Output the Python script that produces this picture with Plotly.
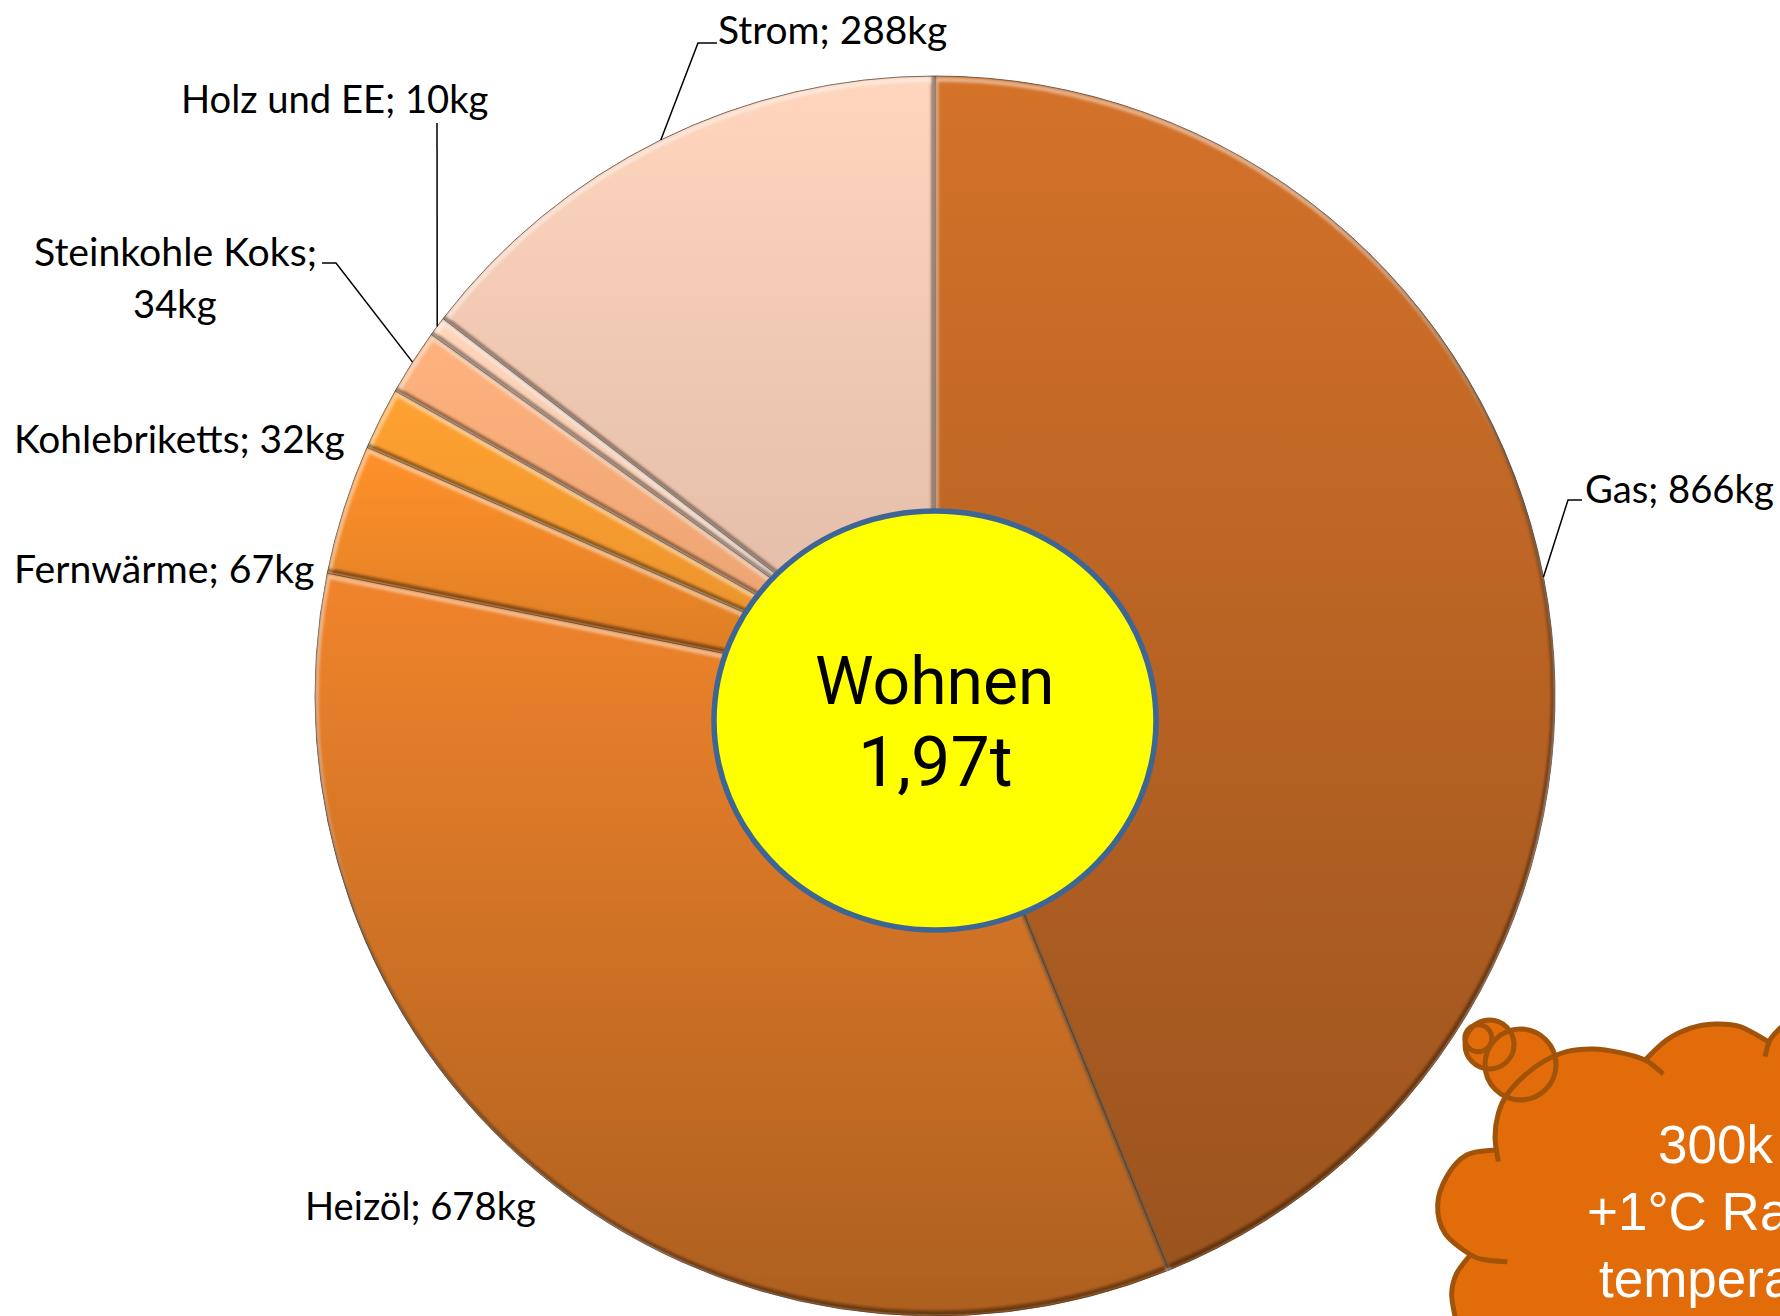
import base64
import numpy as np
import plotly.graph_objects as go

# ---- data ----
names = ["Gas", "Heizöl", "Fernwärme", "Kohlebriketts", "Steinkohle Koks", "Holz und EE", "Strom"]
values = [866, 678, 67, 32, 34, 10, 288]
centre_lines = ["Wohnen", "1,97t"]
cloud_lines = ["300k", "+1°C Ra", "tempera"]

# ---- styles ----
slice_colors = ["#d47229", "#f0842b", "#ff912a", "#ffa131", "#ffb27d", "#ffd6bc", "#ffd5bd"]
slice_shade = [0.27, 0.28, 0.16, 0.10, 0.10, 0.10, 0.13]

W, H = 1780, 1316
CX, CY, R = 935.0, 696.0, 620.0
LABEL_FONT = "Lato"
LABEL_SIZE = 38.2


def px(x):
    return x / W


def py(y):
    return 1 - y / H


total = sum(values)
cum = np.concatenate([[0], np.cumsum(values)]) / total * 2 * np.pi


def rim(a, r=R):
    return CX + r * np.sin(a), CY - r * np.cos(a)


def wedge_path(a0, a1):
    x0, y0 = rim(a0)
    x1, y1 = rim(a1)
    large = 1 if a1 - a0 > np.pi else 0
    return f"M{CX},{CY} L{x0:.2f},{y0:.2f} A{R},{R} 0 {large} 1 {x1:.2f},{y1:.2f} Z"


# shading overlay: per-slice vertical gradient plus a soft bevel on the edges
defs, body = [], []
defs.append('<filter id="b" x="-5%" y="-5%" width="110%" height="110%"><feGaussianBlur stdDeviation="1.4"/></filter>')
for i, shade in enumerate(slice_shade):
    d = wedge_path(cum[i], cum[i + 1])
    defs.append(
        f'<linearGradient id="g{i}" x1="0" y1="0" x2="0" y2="1">'
        f'<stop offset="0" stop-color="#000" stop-opacity="0"/>'
        f'<stop offset="1" stop-color="#000" stop-opacity="{shade}"/></linearGradient>'
    )
    defs.append(f'<clipPath id="c{i}"><path d="{d}"/></clipPath>')
    body.append(f'<path d="{d}" fill="url(#g{i})"/>')
    body.append(
        f'<g clip-path="url(#c{i})"><g filter="url(#b)">'
        f'<path d="{d}" transform="translate(1.2,3.5)" fill="none" stroke="#fff" stroke-opacity="0.5" stroke-width="4"/>'
        f'<path d="{d}" transform="translate(-1.5,-3)" fill="none" stroke="#2a1400" stroke-opacity="0.6" stroke-width="4"/>'
        f'</g></g>'
    )
svg = (
    f'<svg xmlns="http://www.w3.org/2000/svg" width="{W}" height="{H}" viewBox="0 0 {W} {H}">'
    f'<defs>{"".join(defs)}</defs>{"".join(body)}</svg>'
)
overlay = "data:image/svg+xml;base64," + base64.b64encode(svg.encode()).decode()


def smooth(points):
    """Catmull-Rom through pixel points, as a paper-space path."""
    p = [np.array(q, float) for q in points]
    out = []
    for i in range(len(p) - 1):
        a = p[max(i - 1, 0)]
        b, c = p[i], p[i + 1]
        e = p[min(i + 2, len(p) - 1)]
        c1 = b + (c - a) / 6
        c2 = c - (e - b) / 6
        out.append(f"C{px(c1[0]):.5f},{py(c1[1]):.5f} {px(c2[0]):.5f},{py(c2[1]):.5f} {px(c[0]):.5f},{py(c[1]):.5f}")
    return f"M{px(p[0][0]):.5f},{py(p[0][1]):.5f} " + " ".join(out)


def z(points):
    """Cloud outlines were measured in a 3x crop of (1400,980)."""
    return [(1400 + x / 3, 980 + y / 3) for x, y in points]


CLOUD_FILL = "#e36c0a"
CLOUD_LINE = "#a2530a"
LW = 5
arc_a = z([(790, 282), (735, 240), (660, 218), (580, 207), (500, 215), (430, 245), (370, 290), (320, 345), (295, 400), (285, 470), (295, 545)])
arc_b = z([(285, 510), (200, 525), (140, 590), (113, 675), (135, 760), (213, 825), (260, 840), (322, 845)])
arc_c = z([(213, 822), (170, 880), (155, 940), (165, 1010)])
arc_d = z([(735, 240), (800, 180), (870, 145), (945, 132), (1020, 140), (1105, 185)])
arc_e = z([(1095, 230), (1110, 180), (1145, 140)])
bubbles = [(1478.3, 1038.3, 13.5), (1489.5, 1044.5, 24.5), (1520.5, 1064.5, 35.5)]

# outer boundary, one smooth run per bump so the notches stay sharp
fill_runs = [
    z([(165, 1010), (155, 940), (170, 880), (213, 822)]),
    z([(213, 825), (135, 760), (113, 675), (140, 590), (200, 525), (285, 510)]),
    z([(285, 470), (295, 400), (320, 345), (370, 290), (430, 245), (500, 215), (580, 207), (660, 218), (735, 240)]),
    z([(735, 240), (800, 180), (870, 145), (945, 132), (1020, 140), (1105, 185)]),
    z([(1105, 185), (1145, 140)]),
]
fill_path = " ".join(smooth(r) if i == 0 else "L" + smooth(r)[1:] for i, r in enumerate(fill_runs))
fill_path += f" L{px(1790):.5f},{py(1030):.5f} L{px(1790):.5f},{py(1330):.5f} L{px(1455):.5f},{py(1330):.5f} Z"

shapes = []
shapes.append(dict(type="path", xref="paper", yref="paper", path=fill_path, fillcolor=CLOUD_FILL, line=dict(width=0), layer="above"))


def circle(cx, cy, r, **kw):
    return dict(type="circle", xref="paper", yref="paper", x0=px(cx - r), x1=px(cx + r), y0=py(cy + r), y1=py(cy - r), layer="above", **kw)


for b in bubbles:
    shapes.append(circle(*b, fillcolor=CLOUD_FILL, line=dict(width=0)))
for arc in (arc_a, arc_b, arc_c, arc_d, arc_e):
    shapes.append(dict(type="path", xref="paper", yref="paper", path=smooth(arc), line=dict(color=CLOUD_LINE, width=LW), layer="above"))
for b in bubbles:
    shapes.append(circle(*b, line=dict(color=CLOUD_LINE, width=LW)))

# centre ellipse
shapes.append(dict(type="circle", xref="paper", yref="paper", x0=px(714), x1=px(1156), y0=py(930), y1=py(511),
                   fillcolor="#ffff00", line=dict(color="#3d6694", width=5.5), layer="above"))


# leader lines end on the middle of their slice
def mid(i):
    return (cum[i] + cum[i + 1]) / 2


def leader(elbow_pts, i):
    x, y = rim(mid(i))
    pts = elbow_pts + [(x, y)]
    d = "M" + " L".join(f"{px(a):.5f},{py(b):.5f}" for a, b in pts)
    return dict(type="path", xref="paper", yref="paper", path=d, line=dict(color="#000", width=1.5), layer="above")


shapes.append(leader([(1582, 500), (1568, 500)], 0))
shapes.append(leader([(322, 263), (336, 263)], 4))
shapes.append(leader([(437, 123)], 5))
shapes.append(leader([(717, 43), (698, 43)], 6))


def lab(i):
    return f"{names[i]}; {values[i]}kg"


def note(text, x, y, anchor="left", size=LABEL_SIZE, color="#000", family=LABEL_FONT):
    font = dict(family=family, size=size, color=color)
    return dict(text=text, x=px(x), y=py(y), xref="paper", yref="paper", xanchor=anchor, yanchor="middle",
                showarrow=False, font=font, align="left")


annotations = [
    note(lab(0), 1583, 488),
    note(lab(1), 303, 1205),
    note(lab(2), 12, 567, size=39.2),
    note(lab(3), 12, 438, size=38.9),
    note(f"{names[4]};", 32, 250, size=39.2),
    note(f"{values[4]}kg", 175, 303, anchor="center"),
    note(lab(5), 179, 98),
    note(lab(6), 716, 29, size=38.9),
    note(centre_lines[0], 934, 681, anchor="center", size=66, family="Roboto"),
    note(centre_lines[1], 935, 762, anchor="center", size=70, family="Roboto"),
    note(cloud_lines[0], 1656, 1144, size=53, color="#fff", family="Liberation Sans"),
    note(cloud_lines[1], 1585, 1211, size=53, color="#fff", family="Liberation Sans"),
    note(cloud_lines[2], 1597, 1278, size=53, color="#fff", family="Liberation Sans"),
]

fig = go.Figure(
    go.Pie(
        labels=names,
        values=values,
        sort=False,
        direction="clockwise",
        rotation=0,
        textinfo="none",
        marker=dict(colors=slice_colors, line=dict(color="rgba(50,30,15,0.85)", width=0.8)),
        domain=dict(x=[px(CX - R), px(CX + R)], y=[py(CY + R), py(CY - R)]),
        showlegend=False,
    )
)
fig.update_layout(
    width=W,
    height=H,
    margin=dict(l=0, r=0, t=0, b=0),
    paper_bgcolor="#fff",
    images=[dict(source=overlay, xref="paper", yref="paper", x=0, y=1, sizex=1, sizey=1, xanchor="left", yanchor="top",
                 sizing="stretch", layer="above")],
    shapes=shapes,
    annotations=annotations,
)
fig.write_html("out.html", config={"displayModeBar": False},
               post_script="document.body.style.margin='0';document.body.style.overflow='hidden';")
